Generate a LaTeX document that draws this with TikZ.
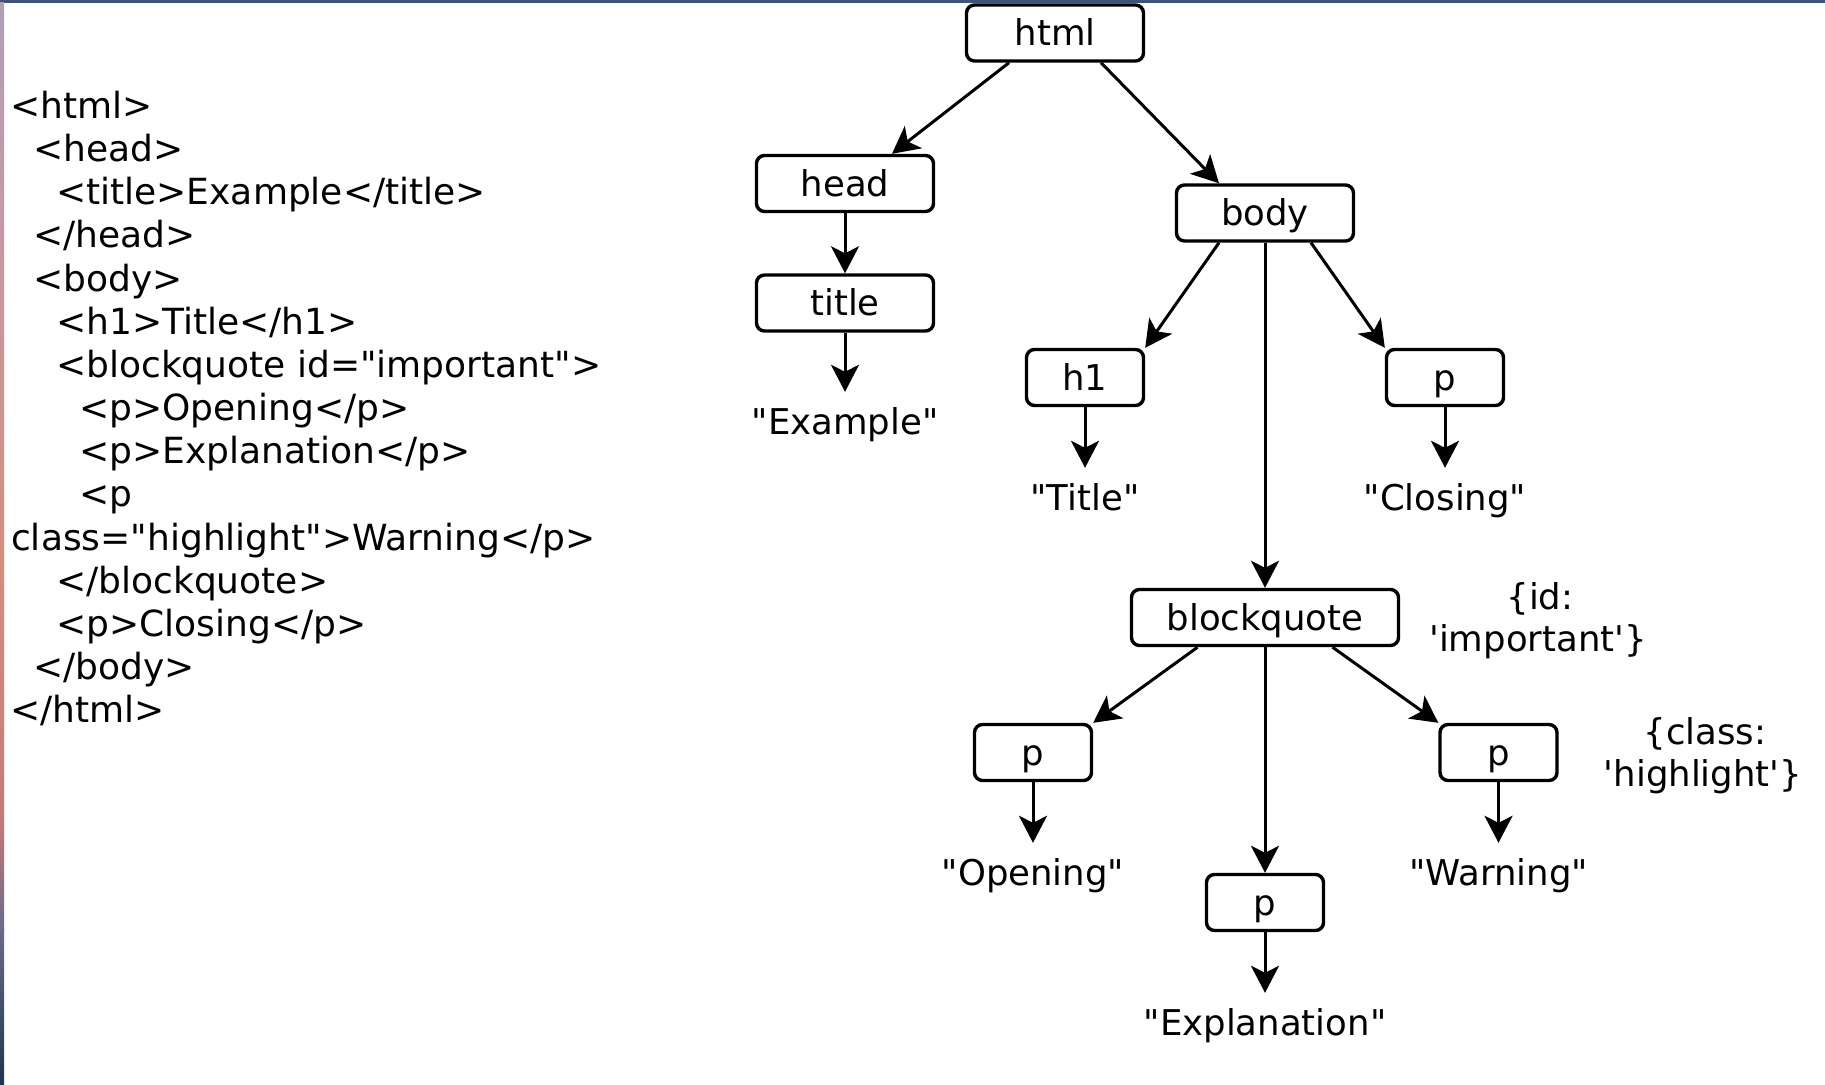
\documentclass[tikz,border=0pt]{standalone}
\usepackage{fontspec}
\newfontfamily\dv{DejaVu Sans}
\usetikzlibrary{arrows.meta}
\definecolor{topline}{HTML}{3C5475}
\definecolor{stripA}{HTML}{B0A0B8}
\definecolor{stripB}{HTML}{C49AA8}
\definecolor{stripC}{HTML}{D48E7E}
\definecolor{stripD}{HTML}{C47A78}
\definecolor{stripE}{HTML}{6A6A8A}
\definecolor{stripF}{HTML}{1E3450}
\begin{document}
\begin{tikzpicture}[x=1pt,y=-1pt,
  font=\dv\fontsize{35.5}{43.15}\selectfont,
  codefont/.style={font=\dv\fontsize{36}{43.15}\selectfont},
  tag/.style={draw, line width=3.4pt, rounded corners=8pt, minimum width=177pt,
    minimum height=56pt, inner sep=0pt, text height=27pt, text depth=2pt},
  smalltag/.style={tag, minimum width=117pt},
  widetag/.style={tag, minimum width=267pt},
  leaf/.style={anchor=base, inner sep=15pt, text height=27pt, text depth=8pt},
  codeline/.style={codefont, anchor=base west, inner sep=0pt},
  attr/.style={anchor=base, inner sep=0pt},
  link/.style={line width=3pt, -{Stealth[length=27pt,width=28pt,inset=7pt]}}]

% canvas
\fill[white] (0,0) rectangle (1825,1084);
\fill[topline] (0,0) rectangle (1825,2.5);
\shade[top color=stripA, bottom color=stripB] (0,2.5) rectangle (4,200);
\shade[top color=stripB, bottom color=stripC] (0,199.5) rectangle (4,560);
\shade[top color=stripC, bottom color=stripD] (0,559.5) rectangle (4,820);
\shade[top color=stripD, bottom color=stripE] (0,819.5) rectangle (4,930);
\shade[top color=stripE, bottom color=stripF] (0,929.5) rectangle (4,1084);

% source code
\node[codeline] (c0)  at (10,118.5)    {<html>};
\node[codeline] (c1)  at (33,161.65) {<head>};
\node[codeline] (c2)  at (56,204.8)  {<title>Example</title>};
\node[codeline] (c3)  at (33,247.95) {</head>};
\node[codeline] (c4)  at (33,291.1)  {<body>};
\node[codeline] (c5)  at (56,334.25) {<h1>Title</h1>};
\node[codeline] (c6)  at (56,377.4)  {<blockquote id="important">};
\node[codeline] (c7)  at (79,420.55) {<p>Opening</p>};
\node[codeline] (c8)  at (79,463.7)  {<p>Explanation</p>};
\node[codeline] (c9)  at (79,506.85) {<p};
\node[codeline] (c10) at (11,550.0)  {class="highlight">Warning</p>};
\node[codeline] (c11) at (56,593.15) {</blockquote>};
\node[codeline] (c12) at (56,636.3)  {<p>Closing</p>};
\node[codeline] (c13) at (33,679.45) {</body>};
\node[codeline] (c14) at (10,722.6)  {</html>};

% tree boxes
\node[tag] (html) at (1055,33) {html};
\node[tag] (head) at (845,183.5) {head};
\node[tag] (title) at (845,303) {title};
\node[tag] (body) at (1265,213) {body};
\node[smalltag] (h1) at (1085,377.5) {h1};
\node[smalltag] (pc) at (1445,377.5) {p};
\node[widetag] (bq) at (1265,617.5) {blockquote};
\node[smalltag] (po) at (1033,752.5) {p};
\node[smalltag] (pw) at (1498.5,752.5) {p};
\node[smalltag] (pe) at (1265,902.5) {p};

% text leaves
\node[leaf] (ex) at (845,434) {"Example"};
\node[leaf] (ti) at (1085,510) {"Title"};
\node[leaf] (cl) at (1445,510) {"Closing"};
\node[leaf] (op) at (1033,885) {"Opening"};
\node[leaf] (wa) at (1498.5,885) {"Warning"};
\node[leaf] (expl) at (1265,1035) {"Explanation"};

% attributes
\node[attr] (idA) at (1540,609) {\{id:};
\node[attr] (idB) at (1538,651.7) {'important'\}};
\node[attr] (clA) at (1705,744) {\{class:};
\node[attr] (clB) at (1703,786.7) {'highlight'\}};

% connectors
\draw[link] ([xshift=-46pt]html.south) -- ([xshift=47pt]head.north);
\draw[link] ([xshift=46pt]html.south) -- ([xshift=-46pt]body.north);
\draw[link] (head.south) -- (title.north);
\draw[link] (title.south) -- (ex.north);
\draw[link] ([xshift=-46pt]body.south) -- (h1.north east);
\draw[link] ([xshift=46pt]body.south) -- (pc.north west);
\draw[link] (body.south) -- (bq.north);
\draw[link] (h1.south) -- (ti.north);
\draw[link] (pc.south) -- (cl.north);
\draw[link] ([xshift=-67.5pt]bq.south) -- (po.north east);
\draw[link] ([xshift=67.5pt]bq.south) -- (pw.north west);
\draw[link] (bq.south) -- (pe.north);
\draw[link] (po.south) -- (op.north);
\draw[link] (pw.south) -- (wa.north);
\draw[link] (pe.south) -- (expl.north);
\end{tikzpicture}
\end{document}
